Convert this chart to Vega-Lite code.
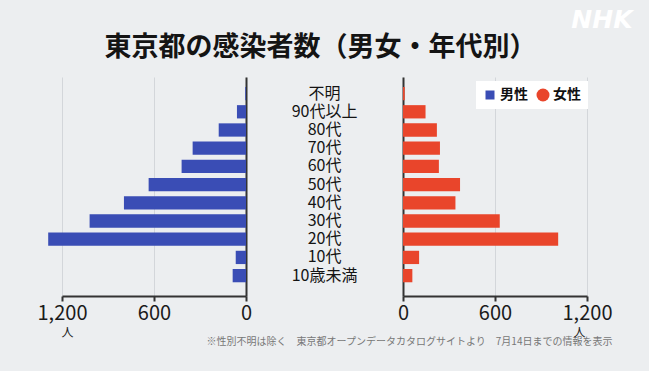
{
  "$schema": "https://vega.github.io/schema/vega-lite/v6.json",
  "background": "#eceef0",
  "padding": {"left": 37, "top": 7, "right": 18, "bottom": 26},
  "data": {
    "values": [
      {"age": "不明", "sex": "男性", "count": 5},
      {"age": "90代以上", "sex": "男性", "count": 59},
      {"age": "80代", "sex": "男性", "count": 178},
      {"age": "70代", "sex": "男性", "count": 348},
      {"age": "60代", "sex": "男性", "count": 420},
      {"age": "50代", "sex": "男性", "count": 635},
      {"age": "40代", "sex": "男性", "count": 796},
      {"age": "30代", "sex": "男性", "count": 1020},
      {"age": "20代", "sex": "男性", "count": 1290},
      {"age": "10代", "sex": "男性", "count": 67},
      {"age": "10歳未満", "sex": "男性", "count": 87},
      {"age": "不明", "sex": "女性", "count": 11},
      {"age": "90代以上", "sex": "女性", "count": 147},
      {"age": "80代", "sex": "女性", "count": 221},
      {"age": "70代", "sex": "女性", "count": 241},
      {"age": "60代", "sex": "女性", "count": 234},
      {"age": "50代", "sex": "女性", "count": 372},
      {"age": "40代", "sex": "女性", "count": 342},
      {"age": "30代", "sex": "女性", "count": 631},
      {"age": "20代", "sex": "女性", "count": 1012},
      {"age": "10代", "sex": "女性", "count": 105},
      {"age": "10歳未満", "sex": "女性", "count": 61}
    ]
  },
  "spacing": 0,
  "bounds": "flush",
  "hconcat": [
    {
      "width": 184,
      "height": 219,
      "transform": [{"filter": "datum.sex == '男性'"}],
      "mark": {"type": "bar"},
      "encoding": {
        "y": {
          "field": "age", "type": "nominal", "sort": null,
          "scale": {"type": "band", "domain": ["不明", "90代以上", "80代", "70代", "60代", "50代", "40代", "30代", "20代", "10代", "10歳未満"], "paddingInner": 0.27, "paddingOuter": 0.65, "align": 0.42},
          "axis": {"orient": "right", "labels": false, "ticks": false, "title": null, "grid": false, "domainColor": "#333333", "domainWidth": 2}
        },
        "x": {
          "field": "count", "type": "quantitative",
          "scale": {"domain": [0, 1200], "reverse": true},
          "axis": {"values": [0, 600, 1200], "format": ",d", "title": "人", "titleX": 5, "titleY": 31, "titleFontSize": 12, "titleFontWeight": "normal", "titleColor": "#222222", "titleAlign": "center", "titleBaseline": "top"}
        },
        "color": {
          "field": "sex", "type": "nominal",
          "scale": {"domain": ["男性", "女性"], "range": ["#3a4db5", "#e9452b"]},
          "legend": {
            "title": null, "orient": "none", "legendX": 414, "legendY": 4, "direction": "horizontal",
            "fillColor": "#ffffff", "padding": 7, "labelFontSize": 14, "labelFontWeight": "bold", "labelColor": "#111111",
            "labelFont": "Noto Sans CJK JP", "symbolOpacity": 1, "columnPadding": 8, "labelOffset": 3,
            "encode": {"symbols": {"update": {
              "shape": {"signal": "datum.label == '男性' ? 'square' : 'circle'"},
              "size": {"signal": "datum.label == '男性' ? 81 : 169"},
              "strokeWidth": {"value": 0}
            }}}
          }
        }
      }
    },
    {
      "width": 157,
      "height": 219,
      "title": {
        "text": "東京都の感染者数（男女・年代別）",
        "fontSize": 27,
        "fontWeight": "bold",
        "font": "Noto Sans CJK JP",
        "color": "#141414",
        "anchor": "middle",
        "baseline": "bottom",
        "offset": 13,
        "dx": -4,
        "dy": 25
      },
      "transform": [{"filter": "datum.sex == '男性'"}],
      "mark": {"type": "text", "fontSize": 16, "color": "#141414", "font": "Noto Sans CJK JP"},
      "encoding": {
        "y": {
          "field": "age", "type": "nominal", "sort": null,
          "scale": {"type": "band", "domain": ["不明", "90代以上", "80代", "70代", "60代", "50代", "40代", "30代", "20代", "10代", "10歳未満"], "paddingInner": 0.27, "paddingOuter": 0.65, "align": 0.42},
          "axis": null
        },
        "x": {
          "datum": 0, "type": "quantitative",
          "scale": {"domain": [-1, 1]},
          "axis": {"domain": false, "ticks": false, "labels": false, "grid": false,
            "title": "※性別不明は除く　東京都オープンデータカタログサイトより　7月14日までの情報を表示",
            "titleX": 163, "titleY": 40, "titleFontSize": 10, "titleColor": "#777777", "titleFontWeight": "normal", "titleAlign": "center", "titleBaseline": "top"}
        },
        "text": {"field": "age"}
      }
    },
    {
      "width": 184,
      "height": 219,
      "transform": [{"filter": "datum.sex == '女性'"}],
      "resolve": {"axis": {"x": "independent"}},
      "layer": [
        {
          "mark": {"type": "bar"},
          "encoding": {
            "y": {
              "field": "age", "type": "nominal", "sort": null,
              "scale": {"type": "band", "domain": ["不明", "90代以上", "80代", "70代", "60代", "50代", "40代", "30代", "20代", "10代", "10歳未満"], "paddingInner": 0.27, "paddingOuter": 0.65, "align": 0.42},
              "axis": {"orient": "left", "labels": false, "ticks": false, "title": null, "grid": false, "domainColor": "#333333", "domainWidth": 2}
            },
            "x": {
              "field": "count", "type": "quantitative",
              "scale": {"domain": [0, 1200]},
              "axis": {"orient": "bottom", "values": [0, 600, 1200], "format": ",d", "title": "人", "titleX": 176, "titleY": 31, "titleFontSize": 12, "titleFontWeight": "normal", "titleColor": "#222222", "titleAlign": "center", "titleBaseline": "top"}
            },
            "color": {
              "field": "sex", "type": "nominal",
              "scale": {"domain": ["男性", "女性"], "range": ["#3a4db5", "#e9452b"]}
            }
          }
        },
        {
          "mark": {"type": "rule", "opacity": 0},
          "encoding": {
            "x": {
              "datum": 0, "type": "quantitative",
              "axis": {"orient": "top", "domain": false, "ticks": false, "labels": false, "grid": false,
                "title": "NHK", "titleX": 229, "titleY": -70, "titleAlign": "right", "titleBaseline": "top",
                "titleFontSize": 25, "titleFontStyle": "italic", "titleFontWeight": "bold", "titleColor": "#ffffff", "titleFont": "DejaVu Sans"}
            }
          }
        }
      ]
    }
  ],
  "config": {
    "view": {"stroke": null},
    "font": "Noto Sans CJK JP",
    "axisX": {
      "labelFontSize": 20, "labelColor": "#1a1a1a", "labelFont": "Noto Sans CJK JP", "labelPadding": 2, "labelFlush": false,
      "tickSize": 5, "tickWidth": 2, "tickColor": "#333333", "domainColor": "#333333", "domainWidth": 2,
      "grid": true, "gridColor": "#d3d6da", "gridWidth": 1
    }
  }
}
